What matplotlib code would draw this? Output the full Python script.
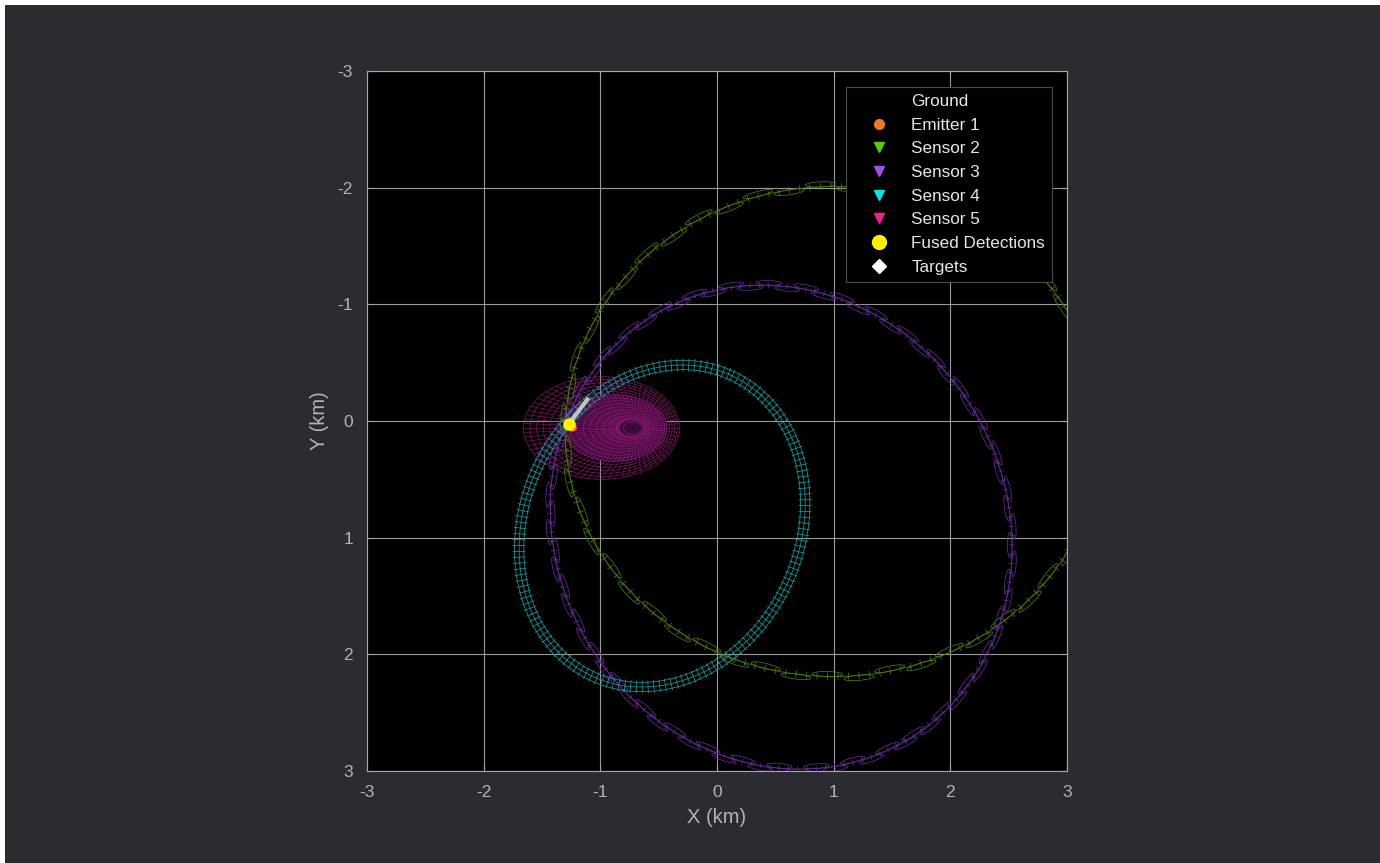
import numpy as np
import matplotlib
matplotlib.use('Agg')
import matplotlib.pyplot as plt
from matplotlib.patches import Ellipse, Rectangle
from matplotlib.collections import PatchCollection, LineCollection
from matplotlib.lines import Line2D

plt.rcParams['font.family'] = ['Liberation Sans', 'DejaVu Sans']
plt.rcParams['axes.unicode_minus'] = False

# Ambiguity rings of the bearing/range sensors (km): centre, semi-axes, tilt (deg)
ring_names = ['Sensor 2', 'Sensor 3', 'Sensor 4']
ring_cx = [1.00, 0.55, -0.47]
ring_cy = [0.09, 0.91, 0.90]
ring_a = [2.30, 2.12, 1.42]
ring_b = [2.10, 1.93, 1.18]
ring_tilt = [0, 60, -65]

# Sensor 5 uncertainty blob (km)
blob_cx, blob_cy = -0.99, 0.06
blob_rx, blob_ry = 0.67, 0.44

# fused detection, emitter and its track
fused_x = [-1.27]
fused_y = [0.03]
emitter_x = [-1.24]
emitter_y = [0.05]
track_x = [-1.25, -1.10]
track_y = [0.00, -0.20]

legend_labels = ['Ground', 'Emitter 1', 'Sensor 2', 'Sensor 3', 'Sensor 4',
                 'Sensor 5', 'Fused Detections', 'Targets']
legend_colors = ['none', '#f07828', '#5ec414', '#a24ee8', '#10e0e0',
                 '#f01e96', '#fff000', '#ffffff']
legend_markers = ['', 'o', 'v', 'v', 'v', 'v', 'o', 'D']

ring_colors = ['#4a7e12', '#672c98', '#1f9ca0']
blob_color = '#a81c84'

fig_bg = '#2b2c31'
txt = '#b4b4b4'


def ellipse_xy(cx, cy, a, b, tilt, n=3000):
    t = np.linspace(0, 2 * np.pi, n)
    p = np.deg2rad(tilt)
    x = cx + a * np.cos(t) * np.cos(p) - b * np.sin(t) * np.sin(p)
    y = cy + a * np.cos(t) * np.sin(p) + b * np.sin(t) * np.cos(p)
    return x, y


def along(x, y, ds):
    s = np.concatenate([[0], np.cumsum(np.hypot(np.diff(x), np.diff(y)))])
    si = np.arange(0, s[-1], ds)
    xi = np.interp(si, s, x)
    yi = np.interp(si, s, y)
    tx = np.gradient(xi)
    ty = np.gradient(yi)
    n = np.hypot(tx, ty)
    return xi, yi, tx / n, ty / n


def draw_ring(ax, k, ds, tick_len, ell_len, ell_wid, ell_every, rails):
    col = ring_colors[k]
    x, y = ellipse_xy(ring_cx[k], ring_cy[k], ring_a[k], ring_b[k], ring_tilt[k])
    xd, yd, txd, tyd = along(x, y, 0.01)
    for off in rails:
        ax.plot(xd - off * tyd, yd + off * txd, color=col, lw=0.55, zorder=3)
    xi, yi, tx, ty = along(x, y, ds)
    nx, ny = -ty, tx
    segs = [[(a - tick_len / 2 * u, b - tick_len / 2 * v),
             (a + tick_len / 2 * u, b + tick_len / 2 * v)]
            for a, b, u, v in zip(xi, yi, nx, ny)]
    ax.add_collection(LineCollection(segs, colors=col, linewidths=0.55, zorder=3))
    if ell_len > 0:
        pats = []
        for i in range(0, len(xi), ell_every):
            off = 0.02 * (1 if (i // ell_every) % 2 else -1)
            ang = np.degrees(np.arctan2(ty[i], tx[i]))
            pats.append(Ellipse((xi[i] + off * nx[i], yi[i] + off * ny[i]),
                                ell_len, ell_wid, angle=ang))
        ax.add_collection(PatchCollection(pats, facecolor='none', edgecolor=col,
                                          linewidths=0.55, zorder=3))


fig = plt.figure(figsize=(13.8, 8.63), dpi=100)
fig.patch.set_facecolor('white')
fig.add_artist(Rectangle((5 / 1380, 0), 1, 1 - 5 / 863, transform=fig.transFigure,
                         facecolor=fig_bg, edgecolor='none', zorder=0))

ax = fig.add_axes([367 / 1380, 1 - 771 / 863, 700 / 1380, 700 / 863])
ax.set_facecolor('black')

# sensor rings
draw_ring(ax, 0, 0.09, 0.06, 0.26, 0.045, 3, [0.0])
draw_ring(ax, 1, 0.08, 0.05, 0.22, 0.04, 2, [0.0])
draw_ring(ax, 2, 0.05, 0.11, 0.0, 0.0, 1, [-0.04, 0.0, 0.04])

# sensor 5 blob
shift = 0.45 * blob_rx
ax.add_patch(Ellipse((blob_cx + shift * 0.4, blob_cy), 2 * blob_rx * 0.66,
                     2 * blob_ry * 0.66, facecolor='#3a0a38', edgecolor='none', zorder=2))
rings = []
for s in np.linspace(0.12, 1.0, 16):
    rings.append(Ellipse((blob_cx + shift * (1 - s), blob_cy), 2 * blob_rx * s, 2 * blob_ry * s))
ax.add_collection(PatchCollection(rings, facecolor='none', edgecolor=blob_color,
                                  linewidths=0.5, alpha=0.75, zorder=2))
spokes = []
sv = np.linspace(0.15, 1.0, 30)
for th in np.linspace(0, 2 * np.pi, 72, endpoint=False):
    spokes.append(np.column_stack([blob_cx + shift * (1 - sv) + blob_rx * sv * np.cos(th),
                                   blob_cy + blob_ry * sv * np.sin(th)]))
ax.add_collection(LineCollection(spokes, colors=blob_color, linewidths=0.45, alpha=0.7, zorder=2))

# track, emitter and fused detection
ax.plot(track_x, track_y, color='#c4c4c4', lw=3, solid_capstyle='butt', zorder=4)
ax.plot(emitter_x, emitter_y, 'o', color='#f07828', markersize=5, zorder=4)
ax.plot(fused_x, fused_y, 'o', color='#fff000', markersize=8, zorder=5)

ax.set_xlim(-3, 3)
ax.set_ylim(3, -3)
ax.set_aspect('equal')
ax.set_xticks(np.arange(-3, 4))
ax.set_yticks(np.arange(-3, 4))
ax.grid(True, color='#9a9a9a', lw=0.8)
ax.set_axisbelow(True)
for sp in ax.spines.values():
    sp.set_color('#a8a8a8')
    sp.set_linewidth(0.8)
ax.tick_params(direction='in', length=4, colors='#a8a8a8', labelcolor=txt,
               labelsize=12.5, pad=10, top=True, right=True)
ax.set_xlabel('X (km)', color=txt, fontsize=14.5, labelpad=6)
ax.set_ylabel('Y (km)', color=txt, fontsize=14.5, labelpad=6)

handles = [Line2D([], [], ls='none', marker=m if m else None, color=c,
                  markersize=(10 if l == 'Fused Detections' else 7))
           for l, c, m in zip(legend_labels, legend_colors, legend_markers)]
leg = ax.legend(handles, legend_labels, loc='upper right',
                bbox_to_anchor=((1052 - 367) / 700, (771 - 87) / 700), borderaxespad=0,
                fontsize=12.3, labelcolor='#e6e6e6', facecolor='black',
                edgecolor='#4a4a4a', framealpha=1, fancybox=False,
                handlelength=3.1, handletextpad=0.33, borderpad=0.4, labelspacing=0.51)
leg.get_frame().set_linewidth(0.8)
leg.set_zorder(10)

fig.savefig('out.png', dpi=100, facecolor=fig.get_facecolor())
